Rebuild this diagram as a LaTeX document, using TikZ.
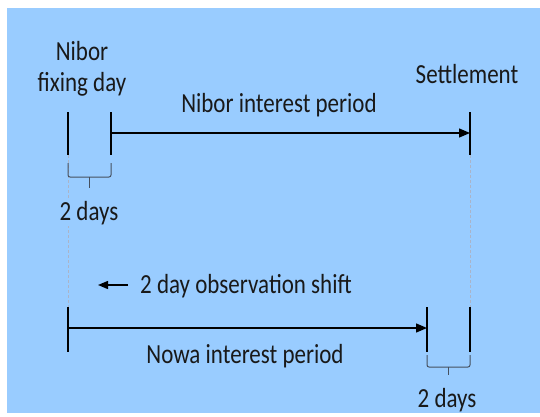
\documentclass[tikz,border=0pt]{standalone}
\usepackage{fontspec}
\setmainfont{Carlito}
\usetikzlibrary{arrows.meta}
\definecolor{bgblue}{RGB}{153,204,255}
\definecolor{txt}{RGB}{25,25,25}
\definecolor{dashgray}{RGB}{170,180,200}
\definecolor{bracegray}{RGB}{70,80,95}
\newcommand\vstretch[1]{\scalebox{1}[1.2]{#1}}
\tikzset{
  lbl/.style={font=\fontsize{23}{29}\selectfont, text=txt, inner sep=0pt, anchor=base},
  tick/.style={line width=1.6pt, draw=black},
  period/.style={line width=1.4pt, draw=black, -{Triangle[length=11pt,width=9pt]}},
  guide/.style={draw=dashgray, line width=1pt, dash pattern=on 3pt off 2pt},
  bracket/.style={draw=bracegray, line width=1pt, rounded corners=2pt},
}
\begin{document}
\begin{tikzpicture}[x=1pt,y=-1pt]
\useasboundingbox (0,0) rectangle (540,416);
\fill[bgblue] (7,8) rectangle (540,413);

% coordinates
\coordinate (fixT) at (68,112);   \coordinate (fixB) at (68,155);
\coordinate (stT) at (111,112);   \coordinate (stB) at (111,155);
\coordinate (setT) at (470,112);  \coordinate (setB) at (470,155);
\coordinate (nibA) at (111,133); \coordinate (nibZ) at (470,133);
\coordinate (lwT) at (68,307);    \coordinate (lwB) at (68,352);
\coordinate (neT) at (427,307);   \coordinate (neB) at (427,352);
\coordinate (lsT) at (470,307);   \coordinate (lsB) at (470,352);
\coordinate (nowA) at (68,328);  \coordinate (nowZ) at (427,328);
\coordinate (shA) at (128,285);  \coordinate (shZ) at (98,285);

% dashed guides
\draw[guide] (fixB) -- (lwT);
\draw[guide] (setB) -- (lsT);

% ticks
\draw[tick] (fixT) -- (fixB);
\draw[tick] (stT) -- (stB);
\draw[tick] (setT) -- (setB);
\draw[tick] (lwT) -- (lwB);
\draw[tick] (neT) -- (neB);
\draw[tick] (lsT) -- (lsB);

% periods
\draw[period] (nibA) -- (nibZ);
\draw[period] (nowA) -- (nowZ);
\draw[line width=1.4pt, -{Triangle[length=10pt,width=8pt]}] (shA) -- (shZ);

% brackets
\draw[bracket] (68,163) -- (68,177) -- (111,177) -- (111,163);
\draw[bracket, rounded corners=0pt] (89.5,177) -- (89.5,188);
\draw[bracket] (427,355) -- (427,367) -- (470,367) -- (470,355);
\draw[bracket, rounded corners=0pt] (448.5,367) -- (448.5,375);

% labels
\node[lbl] (nibor) at (82,60) {\vstretch{Nibor}};
\node[lbl] (fixing) at (82,91) {\vstretch{fixing day}};
\node[lbl] (settle) at (467,83) {\vstretch{Settlement}};
\node[lbl] (nibint) at (279,112) {\vstretch{Nibor interest period}};
\node[lbl, fill=bgblue, inner sep=2pt] (days1) at (89,220) {\vstretch{2 days}};
\node[lbl, anchor=base west] (shift) at (140,293) {\vstretch{2 day observation shift}};
\node[lbl] (nowint) at (245,363) {\vstretch{Nowa interest period}};
\node[lbl] (days2) at (447,407) {\vstretch{2 days}};
\end{tikzpicture}
\end{document}
